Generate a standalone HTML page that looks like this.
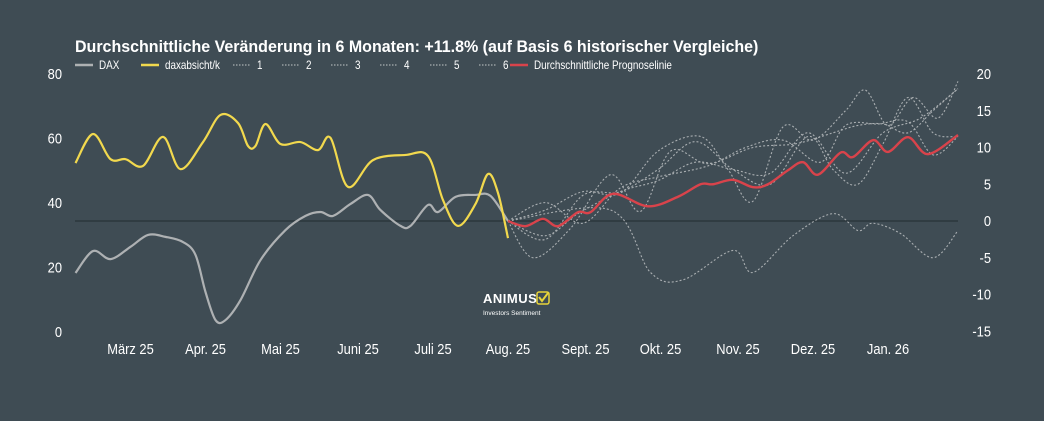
<!DOCTYPE html>
<html><head><meta charset="utf-8"><style>
body{margin:0;background:#3f4c54;width:1044px;height:416px;overflow:hidden;font-family:"Liberation Sans",sans-serif;}
svg text{font-family:"Liberation Sans",sans-serif;}
</style></head><body>
<svg id="chart" width="1044" height="416" xmlns="http://www.w3.org/2000/svg">
<rect width="1044" height="416" fill="#3f4c54"/>
<text transform="translate(75,52) scale(0.97,1)" fill="#fff" font-size="16.5" font-weight="bold">Durchschnittliche Veränderung in 6 Monaten: +11.8% (auf Basis 6 historischer Vergleiche)</text>
<g id="legend"></g>
<g id="axes"></g>
<g id="marks"></g>
<g>
<text x="483" y="303" fill="#fff" font-size="13" font-weight="bold" letter-spacing="0.5">ANIMUS</text>
<rect x="537" y="292" width="12" height="12" rx="2" fill="none" stroke="#e8d43a" stroke-width="1.5"/>
<path d="M539 297 l3 4 l6 -8" fill="none" stroke="#e8d43a" stroke-width="2"/>
<text x="483" y="315" fill="#fff" font-size="6.5">Investors Sentiment</text>
</g>
</svg>
<script>
const monthLabels=["März 25","Apr. 25","Mai 25","Juni 25","Juli 25","Aug. 25","Sept. 25","Okt. 25","Nov. 25","Dez. 25","Jan. 26"];
const monthDays=[-151,-121,-91,-60,-30,0,31,61,92,122,152];
const leftTicks=[0,20,40,60,80];
const rightTicks=[-15,-10,-5,0,5,10,15,20];
const daxDays=[-173,-166,-159,-151,-144,-137,-130,-125,-121,-117,-113,-107,-99,-89,-81,-75,-70,-63,-56,-51,-43,-39,-32,-28,-21,-13,-7,0];
const daxValues=[18.3,25.1,22.6,26.4,30.1,29.5,27.9,23.9,12.4,3.7,3.7,9.9,22.3,31.6,36,37.2,36,39.7,42.5,37.8,32.9,32.9,39.4,37.2,41.9,42.5,42.2,34.4];
const yelDays=[-173,-166,-159,-153,-146,-138,-131,-122,-115,-108,-104,-101,-97,-91,-83,-76,-71,-64,-54,-41,-32,-26,-20,-13,-8,-4,0];
const yelValues=[52.4,61.4,53.6,53.6,51.5,60.5,50.5,58.9,67.3,64.8,57.7,57.7,64.5,58.3,58.9,56.4,60.2,45,53.3,54.9,54.6,40.9,32.9,39.7,49,43.1,29.1];
const s1Days=[0,41,57,70,90,98,114,130,140,146,157,170,180];
const s1Values=[0,1.5,-7,-8,-4,-7,-2,1,-1.3,-0.3,-1.7,-5,-1.3];
const s2Days=[0,10,25,41,53,65,80,98,115,130,140,150,160,170,180];
const s2Values=[0,-5,-1,6.3,1.3,9.5,7.8,10,10.5,12,13,13.2,12,15,18];
const s3Days=[0,15,30,45,60,77,88,98,110,122,135,143,152,162,172,180];
const s3Values=[0,1.5,4,3.8,9.5,11.5,7,2.7,12.8,11,15,17.8,13,16.8,14,19];
const s4Days=[0,15,30,45,60,80,95,110,125,135,148,160,170,180];
const s4Values=[0,2.5,-0.3,4.5,6,7.5,10,11,8,13,13.2,13.5,9,11.5];
const s5Days=[0,15,30,45,60,75,90,105,120,130,140,150,160,170,180];
const s5Values=[0,-2.5,3.5,4,7,10.8,7,5,11.5,7,5,10.5,16.8,12,11.5];
const s6Days=[0,15,28,45,60,75,90,105,120,135,150,165,180];
const s6Values=[0,-2,1,4,5.5,8,7,6.5,12,6.5,12,14,18];
const avgDays=[0,7,14,20,28,33,42,56,68,77,82,90,98,104,112,118,124,133,138,146,152,160,168,180];
const avgValues=[0,-0.7,0.3,-0.7,1.2,1.2,3.7,2.0,3.3,5.0,5.0,5.6,4.6,5.0,6.9,8.0,6.3,9.3,8.7,11.0,9.4,11.4,9.1,11.7];

const NS="http://www.w3.org/2000/svg";
const SX=0.86;
const xS=d=>508+d*2.5;
const yL=v=>332-v*3.225;
const yR=v=>221-v*7.35;
function mk(tag,attrs,parent){const e=document.createElementNS(NS,tag);for(const k in attrs)e.setAttribute(k,attrs[k]);parent.appendChild(e);return e;}
function txt(x,y,s,size,anchor,parent){const t=mk('text',{transform:`translate(${x},${y}) scale(${SX},1)`,fill:'#fff','font-size':size,'text-anchor':anchor},parent);t.textContent=s;return t;}
function smooth(pts){let d=`M${pts[0][0]},${pts[0][1]}`;for(let i=0;i<pts.length-1;i++){const p0=pts[i-1]||pts[i],p1=pts[i],p2=pts[i+1],p3=pts[i+2]||p2;const t=6;d+=` C${p1[0]+(p2[0]-p0[0])/t},${p1[1]+(p2[1]-p0[1])/t} ${p2[0]-(p3[0]-p1[0])/t},${p2[1]-(p3[1]-p1[1])/t} ${p2[0]},${p2[1]}`;}return d;}
const axes=document.getElementById('axes'),marks=document.getElementById('marks'),legend=document.getElementById('legend');
leftTicks.forEach(v=>{const t=txt(62,yL(v)+5,v,15,'end',axes);

});
rightTicks.forEach(v=>{const t=txt(991,yR(v)+5,v,15,'end',axes);

});
monthLabels.forEach((m,i)=>{const t=txt(xS(monthDays[i]),354,m,15,'middle',axes);

});
const zl=mk('line',{x1:75,x2:958,y1:yR(0),y2:yR(0),stroke:'#222b30','stroke-width':1},axes);


function series(days,vals,ys,color,w,dash,name){const p=mk('path',{d:smooth(days.map((d,i)=>[xS(d),ys(vals[i])])),fill:'none',stroke:color,'stroke-width':w,'stroke-dasharray':dash||'none','stroke-linecap':'butt'},marks);

}
const dc='#a9aeb1';
series(s1Days,s1Values,yR,dc,1.1,'2 2','series-1-line');
series(s2Days,s2Values,yR,dc,1.1,'2 2','series-2-line');
series(s3Days,s3Values,yR,dc,1.1,'2 2','series-3-line');
series(s4Days,s4Values,yR,dc,1.1,'2 2','series-4-line');
series(s5Days,s5Values,yR,dc,1.1,'2 2','series-5-line');
series(s6Days,s6Values,yR,dc,1.1,'2 2','series-6-line');
series(daxDays,daxValues,yL,'#aeb1b3',2.2,null,'dax-line');
series(yelDays,yelValues,yL,'#f2d94e',2.2,null,'daxabsicht-line');
series(avgDays,avgValues,yR,'#d9434b',2.4,null,'average-forecast-line');
const leg=[["DAX","#aeb1b3",0,75],["daxabsicht/k","#f2d94e",0,141],["1",dc,1,233],["2",dc,1,282],["3",dc,1,331],["4",dc,1,380],["5",dc,1,430],["6",dc,1,479],["Durchschnittliche Prognoselinie","#d9434b",0,510]];
leg.forEach(([n,c,dot,x])=>{const g=mk('g',{},legend);


mk('line',{x1:x,x2:x+18,y1:65,y2:65,stroke:c,'stroke-width':dot?1.2:2.5,'stroke-dasharray':dot?'1.5 1.5':'none'},g);
txt(x+24,69,n,11.5,'start',g);});
</script>
</body></html>
